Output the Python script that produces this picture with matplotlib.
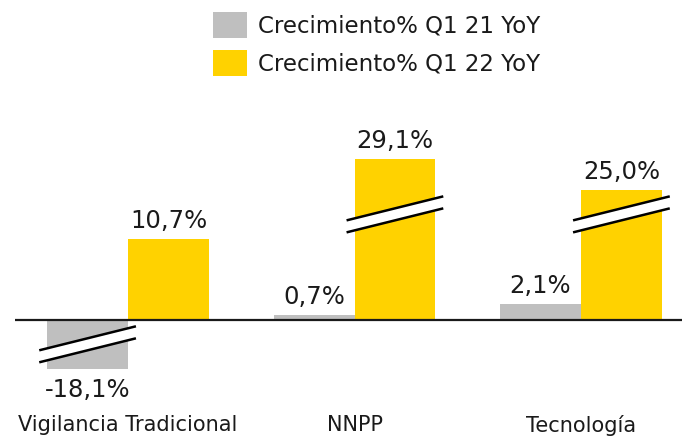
import matplotlib
matplotlib.use("Agg")
import matplotlib.pyplot as plt
from matplotlib.patches import Patch, Polygon
import numpy as np

# ---- data ----
categories = ["Vigilancia Tradicional", "NNPP", "Tecnología"]
series_names = ["Crecimiento% Q1 21 YoY", "Crecimiento% Q1 22 YoY"]
q1_21 = [-18.1, 0.7, 2.1]
q1_22 = [10.7, 29.1, 25.0]
# amount removed from each bar by the axis break (broken bars)
break_21 = [11.7, 0.0, 0.0]
break_22 = [0.0, 7.9, 7.9]

colors = ["#BFBFBF", "#FFD200"]
plt.rcParams["font.family"] = ["DejaVu Sans"]

W, H = 682, 436
fig = plt.figure(figsize=(W / 100, H / 100), dpi=100)
# axes in pixel space: left 15, right 682, top 100, bottom 400
ax = fig.add_axes([15 / W, (H - 400) / H, (682 - 15) / W, 300 / H])
ax.set_xlim(-0.499, 2.446)
ax.set_ylim(-10.53, 28.95)
for s in ax.spines.values():
    s.set_visible(False)
ax.set_yticks([])

x = np.arange(len(categories))
bw = 0.357


def fmt(v):
    return f"{v:.1f}".replace(".", ",") + "%"


def draw_break(xc, yc):
    half = bw / 2 + 0.035
    rise = 3.16 / 2
    gap = 1.58 / 2
    x0, x1 = xc - half, xc + half
    poly = Polygon([[x0, yc - rise - gap], [x1, yc + rise - gap],
                    [x1, yc + rise + gap], [x0, yc - rise + gap]],
                   closed=True, facecolor="white", edgecolor="none", zorder=4)
    ax.add_patch(poly)
    ax.plot([x0, x1], [yc - rise + gap, yc + rise + gap], color="black", lw=1.8,
            zorder=5, solid_capstyle="butt")
    ax.plot([x0, x1], [yc - rise - gap, yc + rise - gap], color="black", lw=1.8,
            zorder=5, solid_capstyle="butt")


for vals, cuts, offs, col in [(q1_21, break_21, -0.5, colors[0]),
                              (q1_22, break_22, 0.5, colors[1])]:
    shown = [v - np.sign(v) * c for v, c in zip(vals, cuts)]
    xs = x + offs * bw
    ax.bar(xs, shown, width=bw, color=col, zorder=3)
    for xi, v, s, c in zip(xs, vals, shown, cuts):
        if c > 0:
            yc = 13.9 if v > 0 else s / 2
            draw_break(xi, yc)
        if v >= 0:
            ax.annotate(fmt(v), (xi, s), xytext=(0, 8), textcoords="offset points",
                        ha="center", va="baseline", fontsize=17.5, color="#1a1a1a")
        else:
            ax.annotate(fmt(v), (xi, s), xytext=(0, -7), textcoords="offset points",
                        ha="center", va="top", fontsize=17.5, color="#1a1a1a")

ax.axhline(0, color="#1a1a1a", lw=1.6, zorder=6)

ax.set_xticks(x)
ax.set_xticklabels(categories, fontsize=15, color="#1a1a1a")
ax.tick_params(axis="x", length=0, pad=11)

handles = [Patch(facecolor=c, edgecolor="none") for c in colors]
fig.legend(handles, series_names, loc="upper left",
           bbox_to_anchor=(213 / W, 1 - 12 / H), frameon=False, fontsize=16.5,
           handlelength=1.5, handleheight=1.4, handletextpad=0.45,
           labelspacing=0.5, borderpad=0, borderaxespad=0, labelcolor="#1a1a1a")

fig.savefig("out.png", dpi=100)
